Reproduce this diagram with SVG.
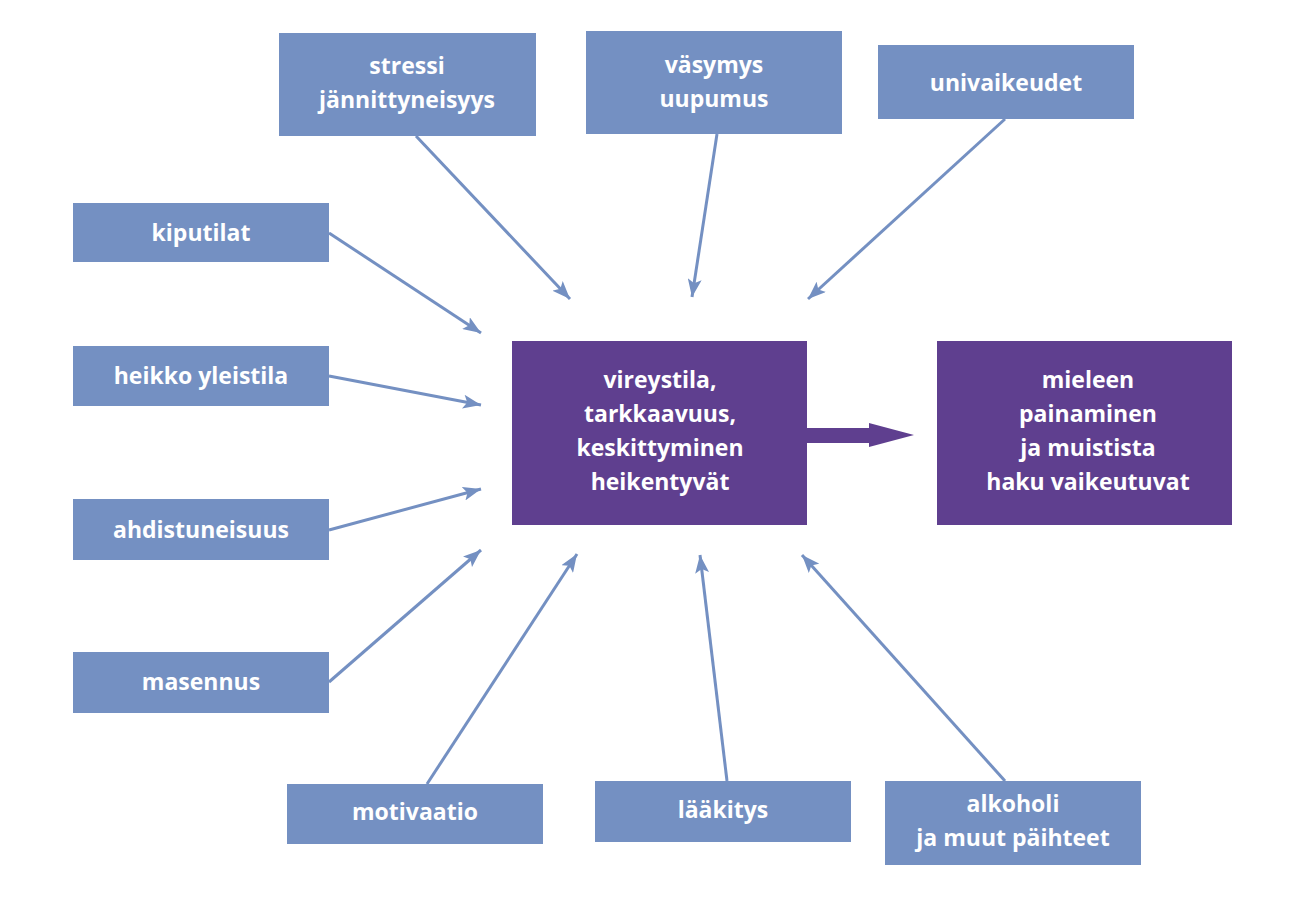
<svg xmlns="http://www.w3.org/2000/svg" width="1307" height="901" viewBox="0 0 1307 901">
<style>
.b{fill:#7490c2}.p{fill:#5f3f8f}
text{font-family:"Open Sans","Liberation Sans",sans-serif;font-weight:bold;font-size:23px;fill:#fff;text-anchor:middle}
.c line{stroke:#7490c2;stroke-width:3;marker-end:url(#a)}
</style>
<defs><marker id="a" markerUnits="userSpaceOnUse" markerWidth="20" markerHeight="14" refX="18" refY="7" orient="auto"><path d="M0,0 L18,7 L0,14 L4,7Z" fill="#7490c2"/></marker></defs>
<rect width="1307" height="901" fill="#fff"/>
<g class="c" id="connectors">
<line x1="416" y1="136" x2="570" y2="299"/>
<line x1="717" y1="134" x2="692" y2="297"/>
<line x1="1005" y1="119" x2="808" y2="299"/>
<line x1="329" y1="233" x2="481" y2="333"/>
<line x1="329" y1="376" x2="481" y2="405"/>
<line x1="329" y1="530" x2="481" y2="489"/>
<line x1="329" y1="682" x2="481" y2="550"/>
<line x1="427" y1="784" x2="577" y2="554"/>
<line x1="727" y1="781" x2="700" y2="555"/>
<line x1="1005" y1="781" x2="802" y2="555"/>
<path d="M807,428 H869 V423 L914,435 L869,447 V443 H807Z" class="p" style="marker-end:none"/>
</g>
<g id="stressi"><rect class="b" x="279" y="33" width="257" height="103"/><text x="407" y="74">stressi</text><text x="407" y="108">jännittyneisyys</text></g>
<g id="vasymys"><rect class="b" x="586" y="31" width="256" height="103"/><text x="714" y="73">väsymys</text><text x="714" y="107">uupumus</text></g>
<g id="univaikeudet"><rect class="b" x="878" y="45" width="256" height="74"/><text x="1006" y="91">univaikeudet</text></g>
<g id="kiputilat"><rect class="b" x="73" y="203" width="256" height="59"/><text x="201" y="241">kiputilat</text></g>
<g id="heikko"><rect class="b" x="73" y="346" width="256" height="60"/><text x="201" y="384">heikko yleistila</text></g>
<g id="ahdistuneisuus"><rect class="b" x="73" y="499" width="256" height="61"/><text x="201" y="538">ahdistuneisuus</text></g>
<g id="masennus"><rect class="b" x="73" y="652" width="256" height="61"/><text x="201" y="690">masennus</text></g>
<g id="motivaatio"><rect class="b" x="287" y="784" width="256" height="60"/><text x="415" y="820">motivaatio</text></g>
<g id="laakitys"><rect class="b" x="595" y="781" width="256" height="61"/><text x="723" y="818">lääkitys</text></g>
<g id="alkoholi"><rect class="b" x="885" y="781" width="256" height="84"/><text x="1013" y="812">alkoholi</text><text x="1013" y="846">ja muut päihteet</text></g>
<g id="center"><rect class="p" x="512" y="341" width="295" height="184"/><text x="660" y="388">vireystila,</text><text x="660" y="422">tarkkaavuus,</text><text x="660" y="456">keskittyminen</text><text x="660" y="490">heikentyvät</text></g>
<g id="right"><rect class="p" x="937" y="341" width="295" height="184"/><text x="1088" y="388">mieleen</text><text x="1088" y="422">painaminen</text><text x="1088" y="456">ja muistista</text><text x="1088" y="490">haku vaikeutuvat</text></g>
</svg>
